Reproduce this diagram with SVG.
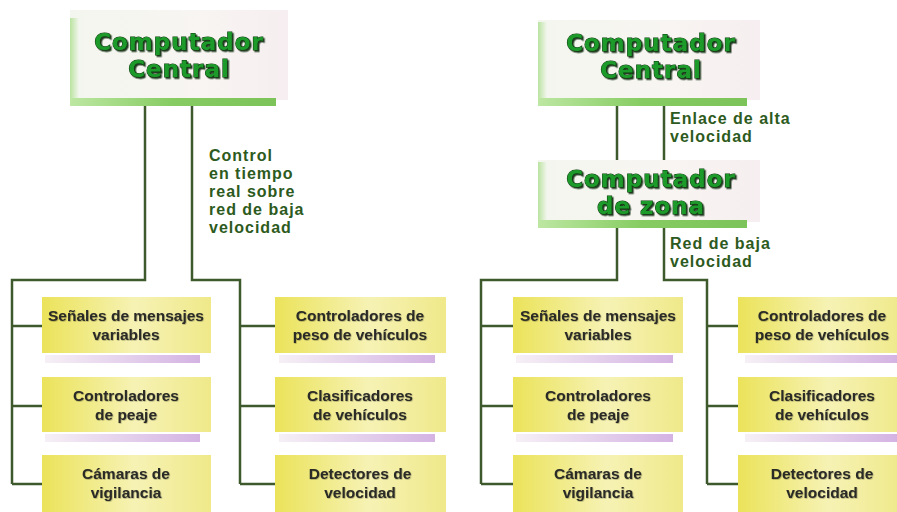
<svg xmlns="http://www.w3.org/2000/svg" width="897" height="512" viewBox="0 0 897 512">
<defs>
<linearGradient id="titleFill" x1="0" y1="0" x2="1" y2="0">
<stop offset="0" stop-color="#f3f6ee"/>
<stop offset="0.6" stop-color="#f8f5f2"/>
<stop offset="1" stop-color="#f6eef0"/>
</linearGradient>
<linearGradient id="leftStrip" x1="0" y1="0" x2="1" y2="0">
<stop offset="0" stop-color="#b9e39f"/>
<stop offset="1" stop-color="#b9e39f" stop-opacity="0"/>
</linearGradient>
<linearGradient id="greenBar" x1="0" y1="0" x2="1" y2="0">
<stop offset="0" stop-color="#bde7a2"/>
<stop offset="0.5" stop-color="#86cc62"/>
<stop offset="1" stop-color="#7cc35a"/>
</linearGradient>
<linearGradient id="yellow" x1="0" y1="0" x2="1" y2="0">
<stop offset="0" stop-color="#ebe35a"/>
<stop offset="0.55" stop-color="#f6f2b4"/>
<stop offset="1" stop-color="#efe98a"/>
</linearGradient>
<linearGradient id="purple" x1="0" y1="0" x2="1" y2="0">
<stop offset="0" stop-color="#f6f0f6"/>
<stop offset="1" stop-color="#d4b3e3"/>
</linearGradient>
<filter id="shadow" x="-10%" y="-20%" width="120%" height="140%">
<feDropShadow dx="1.5" dy="1.5" stdDeviation="0.3" flood-color="#0a2a0a" flood-opacity="0.9"/>
</filter>
<filter id="soft" x="-10%" y="-20%" width="120%" height="140%">
<feDropShadow dx="0.6" dy="0.6" stdDeviation="0.4" flood-color="#000" flood-opacity="0.35"/>
</filter>
</defs>
<style>
.title{font-family:"DejaVu Sans",sans-serif;font-weight:bold;font-size:23px;letter-spacing:1px;fill:#1f9a2c;stroke:#0b3a0d;stroke-width:1.1px;paint-order:stroke;text-anchor:middle;filter:url(#shadow)}
.box{font-family:"Liberation Sans",Arial,sans-serif;font-weight:bold;font-size:15.5px;fill:#2a2a26;text-anchor:middle;filter:url(#soft)}
.lbl{font-family:"Liberation Sans",Arial,sans-serif;font-weight:bold;font-size:16px;letter-spacing:1px;fill:#2d5a20}
.conn{fill:none;stroke:#3e5a2c;stroke-width:2.5}
</style>
<rect width="897" height="512" fill="#ffffff"/>

<g id="connectors">
<path class="conn" d="M145 106 V280 H12 V484 M12 326 H42 M12 406 H42 M12 484 H42"/>
<path class="conn" d="M192 106 V280 H240 V484 M240 326 H275 M240 406 H275 M240 484 H275"/>
<path class="conn" d="M617 106 V160 M664 106 V160"/>
<path class="conn" d="M617 228 V280 H481 V484 M481 326 H513 M481 406 H513 M481 484 H513"/>
<path class="conn" d="M664 228 V280 H707 V484 M707 326 H738 M707 406 H738 M707 484 H738"/>
</g>

<g id="labels">
<text class="lbl" x="209" y="161">Control</text>
<text class="lbl" x="209" y="179">en tiempo</text>
<text class="lbl" x="209" y="197">real sobre</text>
<text class="lbl" x="209" y="215">red de baja</text>
<text class="lbl" x="209" y="233">velocidad</text>
<text class="lbl" x="670" y="124">Enlace de alta</text>
<text class="lbl" x="670" y="142">velocidad</text>
<text class="lbl" x="670" y="249">Red de baja</text>
<text class="lbl" x="670" y="267">velocidad</text>
</g>

<g id="central-left">
<rect x="70" y="10" width="218" height="90" fill="url(#titleFill)"/>
<rect x="70" y="18" width="9" height="82" fill="url(#leftStrip)"/>
<rect x="70" y="98" width="206" height="8" fill="url(#greenBar)"/>
<text class="title" x="179" y="50">Computador</text>
<text class="title" x="179" y="77">Central</text>
</g>

<g id="central-right">
<rect x="538" y="20" width="222" height="80" fill="url(#titleFill)"/>
<rect x="538" y="22" width="9" height="78" fill="url(#leftStrip)"/>
<rect x="538" y="98" width="209" height="8" fill="url(#greenBar)"/>
<text class="title" x="651" y="51">Computador</text>
<text class="title" x="651" y="78">Central</text>
</g>

<g id="zona">
<rect x="538" y="160" width="222" height="62" fill="url(#titleFill)"/>
<rect x="538" y="162" width="9" height="60" fill="url(#leftStrip)"/>
<rect x="538" y="220" width="209" height="8" fill="url(#greenBar)"/>
<text class="title" x="651" y="187">Computador</text>
<text class="title" x="651" y="214">de zona</text>
</g>

<g id="l-senales">
<rect x="42" y="297" width="169" height="56" fill="url(#yellow)"/>
<rect x="45" y="355" width="155" height="8" fill="url(#purple)"/>
<text class="box" x="126" y="321">Señales de mensajes</text>
<text class="box" x="126" y="340">variables</text>
</g>
<g id="l-peaje">
<rect x="42" y="377" width="169" height="55" fill="url(#yellow)"/>
<rect x="45" y="434" width="155" height="8" fill="url(#purple)"/>
<text class="box" x="126" y="401">Controladores</text>
<text class="box" x="126" y="420">de peaje</text>
</g>
<g id="l-camaras">
<rect x="42" y="455" width="169" height="57" fill="url(#yellow)"/>
<text class="box" x="126" y="479">Cámaras de</text>
<text class="box" x="126" y="498">vigilancia</text>
</g>
<g id="l-peso">
<rect x="275" y="297" width="171" height="56" fill="url(#yellow)"/>
<rect x="279" y="355" width="156" height="8" fill="url(#purple)"/>
<text class="box" x="360" y="321">Controladores de</text>
<text class="box" x="360" y="340">peso de vehículos</text>
</g>
<g id="l-clasif">
<rect x="275" y="377" width="171" height="55" fill="url(#yellow)"/>
<rect x="279" y="434" width="156" height="8" fill="url(#purple)"/>
<text class="box" x="360" y="401">Clasificadores</text>
<text class="box" x="360" y="420">de vehículos</text>
</g>
<g id="l-detect">
<rect x="275" y="455" width="171" height="57" fill="url(#yellow)"/>
<text class="box" x="360" y="479">Detectores de</text>
<text class="box" x="360" y="498">velocidad</text>
</g>

<g id="r-senales">
<rect x="513" y="297" width="170" height="56" fill="url(#yellow)"/>
<rect x="516" y="355" width="157" height="8" fill="url(#purple)"/>
<text class="box" x="598" y="321">Señales de mensajes</text>
<text class="box" x="598" y="340">variables</text>
</g>
<g id="r-peaje">
<rect x="513" y="377" width="170" height="55" fill="url(#yellow)"/>
<rect x="516" y="434" width="157" height="8" fill="url(#purple)"/>
<text class="box" x="598" y="401">Controladores</text>
<text class="box" x="598" y="420">de peaje</text>
</g>
<g id="r-camaras">
<rect x="513" y="455" width="170" height="57" fill="url(#yellow)"/>
<text class="box" x="598" y="479">Cámaras de</text>
<text class="box" x="598" y="498">vigilancia</text>
</g>
<g id="r-peso">
<rect x="738" y="297" width="165" height="56" fill="url(#yellow)"/>
<rect x="745" y="355" width="152" height="8" fill="url(#purple)"/>
<text class="box" x="822" y="321">Controladores de</text>
<text class="box" x="822" y="340">peso de vehículos</text>
</g>
<g id="r-clasif">
<rect x="738" y="377" width="165" height="55" fill="url(#yellow)"/>
<rect x="745" y="434" width="152" height="8" fill="url(#purple)"/>
<text class="box" x="822" y="401">Clasificadores</text>
<text class="box" x="822" y="420">de vehículos</text>
</g>
<g id="r-detect">
<rect x="738" y="455" width="165" height="57" fill="url(#yellow)"/>
<text class="box" x="822" y="479">Detectores de</text>
<text class="box" x="822" y="498">velocidad</text>
</g>
</svg>
